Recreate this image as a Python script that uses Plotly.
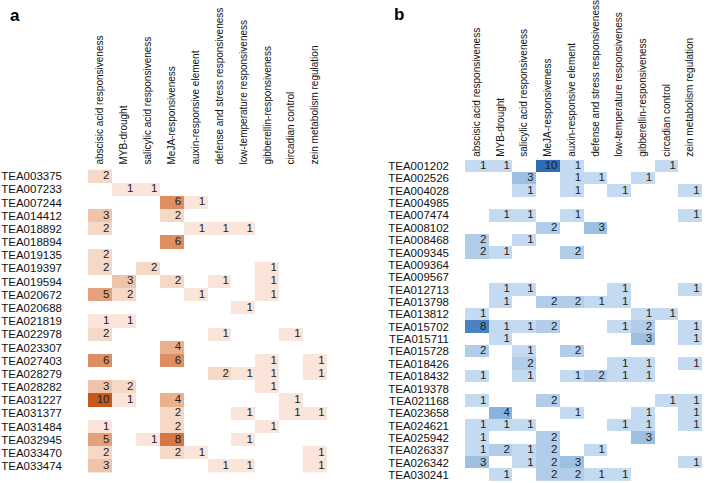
import plotly.graph_objects as go

# Categorías (columnas) comunes a los dos paneles
cols = ["abscisic acid responsiveness", "MYB-drought", "salicylic acid responsiveness",
        "MeJA-responsiveness", "auxin-responsive element", "defense and stress responsiveness",
        "low-temperature responsiveness", "gibberellin-responsiveness", "circadian control",
        "zein metabolism regulation"]

# Panel a
rows_a = ["TEA003375", "TEA007233", "TEA007244", "TEA014412", "TEA018892", "TEA018894",
          "TEA019135", "TEA019397", "TEA019594", "TEA020672", "TEA020688", "TEA021819",
          "TEA022978", "TEA023307", "TEA027403", "TEA028279", "TEA028282", "TEA031227",
          "TEA031377", "TEA031484", "TEA032945", "TEA033470", "TEA033474"]
z_a = [
    [2, 0, 0, 0, 0, 0, 0, 0, 0, 0],
    [0, 1, 1, 0, 0, 0, 0, 0, 0, 0],
    [0, 0, 0, 6, 1, 0, 0, 0, 0, 0],
    [3, 0, 0, 2, 0, 0, 0, 0, 0, 0],
    [2, 0, 0, 0, 1, 1, 1, 0, 0, 0],
    [0, 0, 0, 6, 0, 0, 0, 0, 0, 0],
    [2, 0, 0, 0, 0, 0, 0, 0, 0, 0],
    [2, 0, 2, 0, 0, 0, 0, 1, 0, 0],
    [0, 3, 0, 2, 0, 1, 0, 1, 0, 0],
    [5, 2, 0, 0, 1, 0, 0, 1, 0, 0],
    [0, 0, 0, 0, 0, 0, 1, 0, 0, 0],
    [1, 1, 0, 0, 0, 0, 0, 0, 0, 0],
    [2, 0, 0, 0, 0, 1, 0, 0, 1, 0],
    [0, 0, 0, 4, 0, 0, 0, 0, 0, 0],
    [6, 0, 0, 6, 0, 0, 0, 1, 0, 1],
    [0, 0, 0, 0, 0, 2, 1, 1, 0, 1],
    [3, 2, 0, 0, 0, 0, 0, 1, 0, 0],
    [10, 1, 0, 4, 0, 0, 0, 0, 1, 0],
    [0, 0, 0, 2, 0, 0, 1, 0, 1, 1],
    [1, 0, 0, 2, 0, 0, 0, 1, 0, 0],
    [5, 0, 1, 8, 0, 0, 1, 0, 0, 0],
    [2, 0, 0, 2, 1, 0, 0, 0, 0, 1],
    [3, 0, 0, 0, 0, 1, 1, 0, 0, 1],
]

# Panel b
rows_b = ["TEA001202", "TEA002526", "TEA004028", "TEA004985", "TEA007474", "TEA008102",
          "TEA008468", "TEA009345", "TEA009364", "TEA009567", "TEA012713", "TEA013798",
          "TEA013812", "TEA015702", "TEA015711", "TEA015728", "TEA018426", "TEA018432",
          "TEA019378", "TEA021168", "TEA023658", "TEA024621", "TEA025942", "TEA026337",
          "TEA026342", "TEA030241"]
z_b = [
    [1, 1, 0, 10, 1, 0, 0, 0, 1, 0],
    [0, 0, 3, 0, 1, 1, 0, 1, 0, 0],
    [0, 0, 1, 0, 1, 0, 1, 0, 0, 1],
    [0, 0, 0, 0, 0, 0, 0, 0, 0, 0],
    [0, 1, 1, 0, 1, 0, 0, 0, 0, 1],
    [0, 0, 0, 2, 0, 3, 0, 0, 0, 0],
    [2, 0, 1, 0, 0, 0, 0, 0, 0, 0],
    [2, 1, 0, 0, 2, 0, 0, 0, 0, 0],
    [0, 0, 0, 0, 0, 0, 0, 0, 0, 0],
    [0, 0, 0, 0, 0, 0, 0, 0, 0, 0],
    [0, 1, 1, 0, 0, 0, 1, 0, 0, 1],
    [0, 1, 0, 2, 2, 1, 1, 0, 0, 0],
    [1, 0, 0, 0, 0, 0, 0, 1, 1, 0],
    [8, 1, 1, 2, 0, 0, 1, 2, 0, 1],
    [0, 1, 0, 0, 0, 0, 0, 3, 0, 1],
    [2, 0, 1, 0, 2, 0, 0, 0, 0, 0],
    [0, 0, 2, 0, 0, 0, 1, 1, 0, 1],
    [1, 0, 1, 0, 1, 2, 1, 1, 0, 0],
    [0, 0, 0, 0, 0, 0, 0, 0, 0, 0],
    [1, 0, 0, 2, 0, 0, 0, 0, 1, 1],
    [0, 4, 0, 0, 1, 0, 0, 1, 0, 1],
    [1, 1, 1, 0, 0, 0, 1, 1, 0, 1],
    [1, 0, 0, 2, 0, 0, 0, 3, 0, 0],
    [1, 2, 1, 2, 0, 1, 0, 0, 0, 0],
    [3, 0, 1, 2, 3, 0, 0, 0, 0, 1],
    [0, 1, 0, 2, 2, 1, 1, 0, 0, 0],
]

escala_a = [[0, "#FFF4EE"], [0.1, "#FBE5DA"], [0.2, "#F6D8C7"], [0.3, "#F0C4AB"],
            [0.4, "#EAB190"], [0.5, "#E4A17B"], [0.6, "#DE8E60"], [0.8, "#D57744"],
            [1, "#C6581B"]]
escala_b = [[0, "#D6E6F5"], [0.1, "#C3DAF0"], [0.2, "#B1CDEA"], [0.3, "#9DC0E2"],
            [0.4, "#8AB3DC"], [0.6, "#6B9CD0"], [0.8, "#4A83C3"], [1, "#2E6CB4"]]

FONT = "Arial, Liberation Sans, sans-serif"

fig = go.Figure()


def panel(z, rows, escala, xa, ya):
    n = len(rows)
    zz = [[v if v > 0 else None for v in r] for r in z]
    fig.add_trace(go.Heatmap(
        z=zz, x=list(range(len(cols))), y=list(range(n)),
        colorscale=escala, zmin=0, zmax=10, showscale=False,
        hoverinfo="skip", xaxis=xa, yaxis=ya))
    # números alineados a la derecha dentro de cada celda
    tx, ty, tt = [], [], []
    for i, r in enumerate(z):
        for j, v in enumerate(r):
            if v > 0:
                tx.append(j + 0.40)
                ty.append(i)
                tt.append(str(v))
    fig.add_trace(go.Scatter(
        x=tx, y=ty, text=tt, mode="text", textposition="middle left",
        textfont=dict(family=FONT, size=11.5, color="#222222"),
        hoverinfo="skip", showlegend=False, xaxis=xa, yaxis=ya))


panel(z_a, rows_a, escala_a, "x", "y")
panel(z_b, rows_b, escala_b, "x2", "y2")

common_x = dict(tickvals=list(range(len(cols))), ticktext=cols, side="top",
                tickangle=-90, showgrid=False, zeroline=False, showline=False,
                ticks="", range=[-0.5, len(cols) - 0.5], automargin=False,
                tickfont=dict(family=FONT, size=10, color="#111111"))
common_y = dict(showgrid=False, zeroline=False, ticks="", automargin=False,
                tickfont=dict(family=FONT, size=11.5, color="#111111"))

fig.update_layout(
    width=708, height=483,
    margin=dict(l=0, r=0, t=0, b=0),
    plot_bgcolor="white", paper_bgcolor="white",
    showlegend=False,
    xaxis=dict(domain=[88 / 708, 327 / 708], anchor="y", ticklabelstandoff=4, **common_x),
    yaxis=dict(domain=[1 - 472.8 / 483, 1 - 169.5 / 483], anchor="x",
               tickvals=list(range(len(rows_a))), ticktext=rows_a,
               range=[len(rows_a) - 0.5, -0.5], ticklabelstandoff=25, **common_y),
    xaxis2=dict(domain=[465 / 708, 702 / 708], anchor="y2", ticklabelstandoff=2, **common_x),
    yaxis2=dict(domain=[1 - 481.2 / 483, 1 - 159.8 / 483], anchor="x2",
                tickvals=list(range(len(rows_b))), ticktext=rows_b,
                range=[len(rows_b) - 0.5, -0.5], ticklabelstandoff=15, **common_y),
    annotations=[
        dict(text="<b>a</b>", x=15 / 708, y=1 - 16 / 483, xref="paper", yref="paper",
             xanchor="center", yanchor="middle",
             showarrow=False, font=dict(family=FONT, size=17, color="black")),
        dict(text="<b>b</b>", x=399 / 708, y=1 - 15 / 483, xref="paper", yref="paper",
             xanchor="center", yanchor="middle",
             showarrow=False, font=dict(family=FONT, size=17, color="black")),
    ],
)

# la página trae un margen de 8 px en el body; se quita para que cuadre con 708x483
fig.write_html("out.html", config={"displayModeBar": False},
               post_script="document.body.style.margin='0';")
